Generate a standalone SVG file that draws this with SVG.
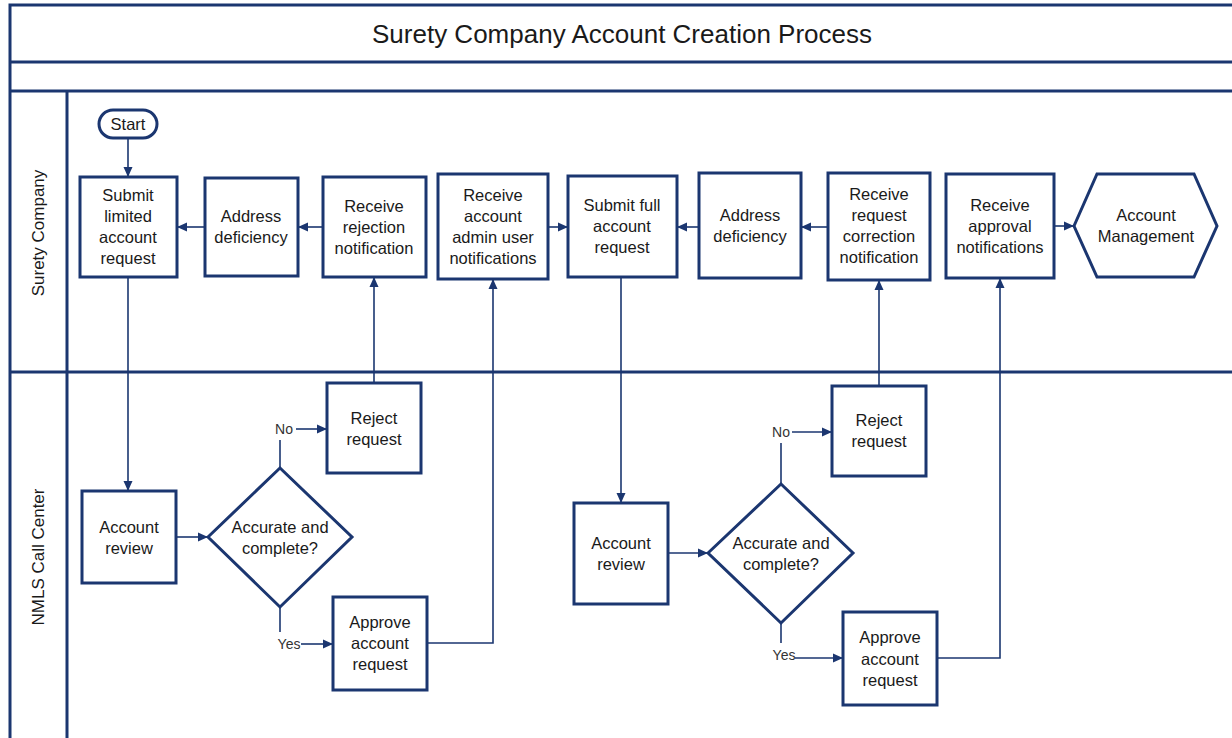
<svg xmlns="http://www.w3.org/2000/svg" width="1232" height="738" viewBox="0 0 1232 738">
<defs>
<marker id="ah" markerWidth="10" markerHeight="10" refX="9" refY="5" orient="auto" markerUnits="userSpaceOnUse">
<path d="M0,0.5 L10,5 L0,9.5 Z" fill="#1b3670"/>
</marker>
<style>
.frame{stroke:#1b3670;stroke-width:3;fill:none}
.box{fill:#fff;stroke:#1b3670;stroke-width:3}
.conn{fill:none;stroke:#1b3670;stroke-width:1.6}
.arr{marker-end:url(#ah)}
.t{font-family:"Liberation Sans",Arial,sans-serif;font-size:16.5px;fill:#1a1a1a;text-anchor:middle}
.lbl{font-family:"Liberation Sans",Arial,sans-serif;font-size:14px;fill:#333;text-anchor:middle}
.lane{font-family:"Liberation Sans",Arial,sans-serif;font-size:17px;fill:#1a1a1a;text-anchor:middle}
.title{font-family:"Liberation Sans",Arial,sans-serif;font-size:26px;fill:#1a1a1a;text-anchor:middle}
</style>
</defs>
<rect width="1232" height="738" fill="#fff"/>
<g id="frame">
<path class="frame" d="M10,740 V5 H1234 M10,62 H1234 M10,91 H1234 M10,372 H1234 M67,91 V740"/>
<text class="title" x="622" y="43">Surety Company Account Creation Process</text>
<text class="lane" transform="translate(44,233) rotate(-90)">Surety Company</text>
<text class="lane" transform="translate(44,557) rotate(-90)">NMLS Call Center</text>
</g>
<g id="connectors">
<path class="conn arr" d="M128,138 V176"/>
<path class="conn arr" d="M205,227 H178"/>
<path class="conn arr" d="M323,227 H299"/>
<path class="conn arr" d="M548,227 H567"/>
<path class="conn arr" d="M699,227 H678"/>
<path class="conn arr" d="M828,227 H802"/>
<path class="conn arr" d="M1054,226 H1073"/>
<path class="conn arr" d="M128,277 V490"/>
<path class="conn arr" d="M176,537 H207"/>
<path class="conn" d="M280,468 V440"/>
<text class="lbl" x="284" y="434">No</text>
<path class="conn arr" d="M296,429 H326"/>
<path class="conn arr" d="M374,383 V278"/>
<path class="conn" d="M280,607 V632"/>
<text class="lbl" x="289" y="649">Yes</text>
<path class="conn arr" d="M301,644 H332"/>
<path class="conn arr" d="M427,643 H493 V280"/>
<path class="conn arr" d="M621,277 V502"/>
<path class="conn arr" d="M668,553 H707"/>
<path class="conn" d="M781,484 V443"/>
<text class="lbl" x="781" y="437">No</text>
<path class="conn arr" d="M792,432 H831"/>
<path class="conn arr" d="M879,386 V281"/>
<path class="conn" d="M781,623 V643"/>
<text class="lbl" x="784" y="660">Yes</text>
<path class="conn arr" d="M795,658 H842"/>
<path class="conn arr" d="M937,658 H1000 V279"/>
</g>
<g id="start">
<rect class="box" x="99" y="110" width="58" height="28" rx="14"/>
<text class="t" x="128" y="130">Start</text>
</g>
<g id="submit-limited">
<rect class="box" x="80" y="177" width="97" height="100"/>
<text class="t" x="128" y="201">Submit</text>
<text class="t" x="128" y="222">limited</text>
<text class="t" x="128" y="243">account</text>
<text class="t" x="128" y="264">request</text>
</g>
<g id="address-deficiency-1">
<rect class="box" x="205" y="178" width="93" height="98"/>
<text class="t" x="251" y="222">Address</text>
<text class="t" x="251" y="243">deficiency</text>
</g>
<g id="receive-rejection">
<rect class="box" x="323" y="177" width="103" height="100"/>
<text class="t" x="374" y="212">Receive</text>
<text class="t" x="374" y="233">rejection</text>
<text class="t" x="374" y="254">notification</text>
</g>
<g id="receive-admin">
<rect class="box" x="438" y="174" width="110" height="105"/>
<text class="t" x="493" y="201">Receive</text>
<text class="t" x="493" y="222">account</text>
<text class="t" x="493" y="243">admin user</text>
<text class="t" x="493" y="264">notifications</text>
</g>
<g id="submit-full">
<rect class="box" x="568" y="176" width="109" height="101"/>
<text class="t" x="622" y="211">Submit full</text>
<text class="t" x="622" y="232">account</text>
<text class="t" x="622" y="253">request</text>
</g>
<g id="address-deficiency-2">
<rect class="box" x="699" y="173" width="102" height="105"/>
<text class="t" x="750" y="221">Address</text>
<text class="t" x="750" y="242">deficiency</text>
</g>
<g id="receive-correction">
<rect class="box" x="828" y="173" width="102" height="107"/>
<text class="t" x="879" y="200">Receive</text>
<text class="t" x="879" y="221">request</text>
<text class="t" x="879" y="242">correction</text>
<text class="t" x="879" y="263">notification</text>
</g>
<g id="receive-approval">
<rect class="box" x="946" y="174" width="108" height="104"/>
<text class="t" x="1000" y="211">Receive</text>
<text class="t" x="1000" y="232">approval</text>
<text class="t" x="1000" y="253">notifications</text>
</g>
<g id="account-management">
<polygon class="box" points="1074,226 1097,174 1194,174 1217,226 1194,277 1097,277"/>
<text class="t" x="1146" y="221">Account</text>
<text class="t" x="1146" y="242">Management</text>
</g>
<g id="account-review-1">
<rect class="box" x="82" y="491" width="94" height="92"/>
<text class="t" x="129" y="533">Account</text>
<text class="t" x="129" y="554">review</text>
</g>
<g id="decision-1">
<polygon class="box" points="208,537 280,468 352,537 280,607"/>
<text class="t" x="280" y="533">Accurate and</text>
<text class="t" x="280" y="554">complete?</text>
</g>
<g id="reject-1">
<rect class="box" x="327" y="383" width="94" height="90"/>
<text class="t" x="374" y="424">Reject</text>
<text class="t" x="374" y="445">request</text>
</g>
<g id="approve-1">
<rect class="box" x="333" y="597" width="94" height="93"/>
<text class="t" x="380" y="628">Approve</text>
<text class="t" x="380" y="649">account</text>
<text class="t" x="380" y="670">request</text>
</g>
<g id="account-review-2">
<rect class="box" x="574" y="503" width="94" height="101"/>
<text class="t" x="621" y="549">Account</text>
<text class="t" x="621" y="570">review</text>
</g>
<g id="decision-2">
<polygon class="box" points="708,553 781,484 853,553 781,623"/>
<text class="t" x="781" y="549">Accurate and</text>
<text class="t" x="781" y="570">complete?</text>
</g>
<g id="reject-2">
<rect class="box" x="832" y="386" width="94" height="90"/>
<text class="t" x="879" y="426">Reject</text>
<text class="t" x="879" y="447">request</text>
</g>
<g id="approve-2">
<rect class="box" x="843" y="612" width="94" height="93"/>
<text class="t" x="890" y="643">Approve</text>
<text class="t" x="890" y="665">account</text>
<text class="t" x="890" y="686">request</text>
</g>
</svg>
